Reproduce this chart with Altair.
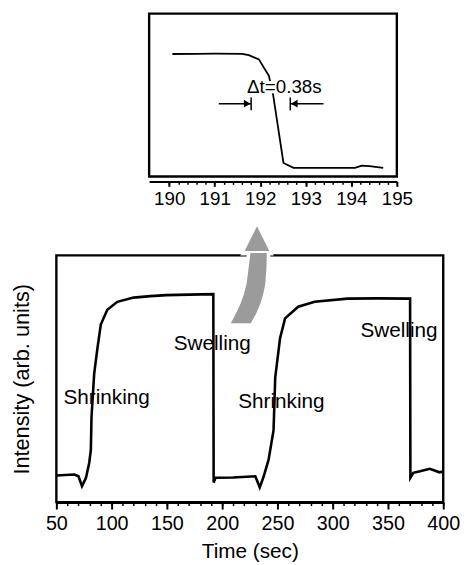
import altair as alt
import pandas as pd

FONT = "Liberation Sans"

# ---------------- data ----------------
# main trace: time (s) vs intensity (arb. units, 0-100 frame)
time_s = [50.5, 58, 66.4, 70, 73.2, 76.8, 79.7, 81.2, 81.8, 84.2, 87.2, 90.2, 96.1,
          105.1, 119.9, 135, 149.7, 170, 192.0, 192.3, 194, 210, 230, 234, 237.6,
          242, 246.5, 248, 252.4, 256.9, 268.8, 283.7, 313.4, 340, 370, 370.3, 373,
          379, 387.8, 396.7, 400]
intensity = [10.8, 11.0, 11.2, 10.5, 6.5, 9.9, 15.9, 21.2, 34.5, 52, 62.5, 72, 78,
             81.2, 82.9, 83.5, 83.9, 84.1, 84.3, 8, 9.9, 10, 10.5, 6, 10.5,
             17.2, 29.2, 50.5, 66.5, 74.5, 79.2, 81.2, 82.5, 82.6, 82.5, 9.9, 11.9,
             12.5, 13.5, 12.1, 12.4]

# inset trace (zoom on the swelling step)
inset_time = [190.07, 190.6, 191.0, 191.6, 191.75, 191.97, 192.19, 192.28, 192.51,
              192.73, 193.5, 194.08, 194.23, 194.4, 194.7]
inset_intensity = [75.2, 75.3, 75.4, 75.3, 74.5, 71.9, 61.8, 50.7, 8.3,
                   5.3, 5.3, 5.3, 6.7, 6.3, 5.3]

# tick values
main_major_ticks = [50, 100, 150, 200, 250, 300, 350, 400]
main_minor_ticks = [50, 60, 70, 80, 90, 100, 110, 120, 130, 140, 150, 160, 170, 180,
                    190, 200, 210, 220, 230, 240, 250, 260, 270, 280, 290, 300, 310,
                    320, 330, 340, 350, 360, 370, 380, 390, 400]
inset_major_ticks = [190, 191, 192, 193, 194, 195]
inset_minor_ticks = [190.0, 190.2, 190.4, 190.6, 190.8, 191.0, 191.2, 191.4, 191.6,
                     191.8, 192.0, 192.2, 192.4, 192.6, 192.8, 193.0, 193.2, 193.4,
                     193.6, 193.8, 194.0, 194.2, 194.4, 194.6, 194.8, 195.0]

# annotations on main panel
label_text = ["Shrinking", "Swelling", "Shrinking", "Swelling"]
label_time = [95.5, 191, 253.6, 360]
label_int = [42, 64, 40.4, 69.2]

# gray curved arrow (main-panel coordinates): shaft edges and head
gshaft_int = [72.5, 76.5, 80.5, 84.5, 88.5, 94.5, 101.0]
gshaft_left = [207.8, 212.5, 216.7, 219.8, 222.1, 223.8, 225.6]
gshaft_right = [225.9, 230.8, 234.6, 237.2, 239.0, 240.0, 240.4]
ghead_time = [231.5]
ghead_int = [106.8]

# inset annotation
dt_text = ["\u0394t=0.38s"]
dt_time = [192.53]
dt_int = [55.2]
dim_from = [191.09, 193.39]
dim_to = [191.8, 192.66]
dim_side = ["left", "right"]
dim_level = [44.7, 44.7]
dim_bar_lo = [40.6, 40.6]
dim_bar_hi = [48.5, 48.5]

# ---------------- frames ----------------
main_df = pd.DataFrame({"t": time_s, "v": intensity})
inset_df = pd.DataFrame({"t": inset_time, "v": inset_intensity})
main_minor_df = pd.DataFrame({"t": main_minor_ticks})
inset_minor_df = pd.DataFrame({"t": inset_minor_ticks})
label_df = pd.DataFrame({"t": label_time, "v": label_int, "txt": label_text})
gshaft_df = pd.DataFrame({"v": gshaft_int, "l": gshaft_left, "r": gshaft_right})
ghead_df = pd.DataFrame({"t": ghead_time, "v": ghead_int})
dt_df = pd.DataFrame({"t": dt_time, "v": dt_int, "txt": dt_text})
dim_df = pd.DataFrame({"t": dim_from, "t2": dim_to, "side": dim_side,
                       "v": dim_level, "lo": dim_bar_lo, "hi": dim_bar_hi})

main_xs = alt.Scale(domain=[50, 400], nice=False, zero=False)
main_ys = alt.Scale(domain=[0, 100], nice=False, zero=False)
inset_xs = alt.Scale(domain=[189.56, 195], nice=False, zero=False)
inset_ys = alt.Scale(domain=[0, 100], nice=False, zero=False)

GRAY = "#9b9b9b"


def mx(field):
    return alt.X(field, type="quantitative", scale=main_xs, axis=None)


def my(field):
    return alt.Y(field, type="quantitative", scale=main_ys, axis=None)


def ix(field):
    return alt.X(field, type="quantitative", scale=inset_xs, axis=None)


def iy(field):
    return alt.Y(field, type="quantitative", scale=inset_ys, axis=None)


# ---------------- main panel ----------------
main_minor = alt.Chart(main_minor_df).mark_point(opacity=0).encode(
    x=alt.X("t:Q", scale=main_xs,
            axis=alt.Axis(values=main_minor_ticks, orient="bottom", labels=False,
                          domain=False, tickSize=3.5, tickWidth=1.5, grid=False,
                          title=None)),
)

main_line = alt.Chart(main_df).mark_line(color="black", strokeWidth=2.6).encode(
    x=alt.X("t:Q", scale=main_xs,
            axis=alt.Axis(values=main_major_ticks, orient="bottom", format="d",
                          tickSize=7, tickWidth=2, domainWidth=2.5,
                          labelFontSize=20, labelPadding=5, labelFlush=False,
                          labelOverlap=False, grid=False,
                          title="Time (sec)", titleFontSize=21,
                          titleFontWeight="normal", titlePadding=7)),
    y=alt.Y("v:Q", scale=main_ys,
            axis=alt.Axis(orient="left", labels=False, ticks=False, domain=False,
                          grid=False, title="Intensity (arb. units)",
                          titleFontSize=22, titleFontWeight="normal",
                          titlePadding=23)),
)

main_labels = alt.Chart(label_df).mark_text(fontSize=21, font=FONT, color="black").encode(
    x=mx("t"), y=my("v"), text="txt:N",
)

gshaft_halo = alt.Chart(gshaft_df).mark_area(
    orient="horizontal", color="white", stroke="white", strokeWidth=7
).encode(y=my("v"), x=mx("l"), x2="r:Q")

gshaft = alt.Chart(gshaft_df).mark_area(orient="horizontal", color=GRAY).encode(
    y=my("v"), x=mx("l"), x2="r:Q"
)

ghead_halo = alt.Chart(ghead_df).mark_point(
    shape="M0,-1L-1,1L1,1Z", filled=True, color="white", opacity=1, size=1150
).encode(x=mx("t"), y=my("v"))

ghead = alt.Chart(ghead_df).mark_point(
    shape="M0,-1L-1,1L1,1Z", filled=True, color=GRAY, opacity=1, size=625
).encode(x=mx("t"), y=my("v"))

main = alt.layer(
    main_line, main_minor, main_labels, gshaft_halo, ghead_halo, gshaft, ghead
).resolve_axis(x="independent", y="independent").properties(width=392, height=250)

# ---------------- inset ----------------
inset_minor = alt.Chart(inset_minor_df).mark_point(opacity=0).encode(
    x=alt.X("t:Q", scale=inset_xs,
            axis=alt.Axis(values=inset_minor_ticks, orient="bottom", labels=False,
                          domain=False, tickSize=3, tickWidth=1.5, offset=5,
                          grid=False, title=None)),
)

inset_line = alt.Chart(inset_df).mark_line(color="black", strokeWidth=1.8).encode(
    x=alt.X("t:Q", scale=inset_xs,
            axis=alt.Axis(values=inset_major_ticks, orient="bottom", format="d",
                          tickSize=5, tickWidth=2, domainWidth=2, offset=5,
                          labelFontSize=19, labelPadding=3, labelFlush=False,
                          labelOverlap=False, grid=False, title=None)),
    y=iy("v"),
)

dt_halo = alt.Chart(dt_df).mark_text(
    fontSize=19, font=FONT, color="white", stroke="white", strokeWidth=6
).encode(x=ix("t"), y=iy("v"), text="txt:N")

dt_label = alt.Chart(dt_df).mark_text(fontSize=19, font=FONT, color="black").encode(
    x=ix("t"), y=iy("v"), text="txt:N"
)

dim_shaft = alt.Chart(dim_df).mark_rule(color="black", strokeWidth=1.5).encode(
    x=ix("t"), x2="t2:Q", y=iy("v")
)

dim_bar = alt.Chart(dim_df).mark_rule(color="black", strokeWidth=1.5).encode(
    x=ix("t2"), y=iy("lo"), y2="hi:Q"
)

dim_head_l = alt.Chart(dim_df).transform_filter("datum.side == 'left'").mark_point(
    shape="triangle-right", filled=True, color="black", opacity=1, size=60, xOffset=-4
).encode(x=ix("t2"), y=iy("v"))

dim_head_r = alt.Chart(dim_df).transform_filter("datum.side == 'right'").mark_point(
    shape="triangle-left", filled=True, color="black", opacity=1, size=60, xOffset=4
).encode(x=ix("t2"), y=iy("v"))

inset = alt.layer(
    inset_line, inset_minor, dt_halo, dt_label, dim_shaft, dim_bar, dim_head_l, dim_head_r
).resolve_axis(x="independent", y="independent").properties(width=251, height=165)

spacer = alt.Chart(pd.DataFrame({"a": [0]})).mark_point(opacity=0).properties(
    width=91, height=10, view=alt.ViewBackground(stroke="transparent")
)

top_row = alt.hconcat(spacer, inset, spacing=0)

chart = alt.vconcat(top_row, main, spacing=10).properties(
    padding={"left": 1, "top": 0, "right": 0, "bottom": 0},
    background="white",
).configure_view(
    stroke="black", strokeWidth=2.4
).configure_axis(
    labelFont=FONT, titleFont=FONT, labelColor="black", titleColor="black",
    domainColor="black", tickColor="black", grid=False
)

chart.save("out.html", embed_options={"renderer": "svg", "actions": False})
